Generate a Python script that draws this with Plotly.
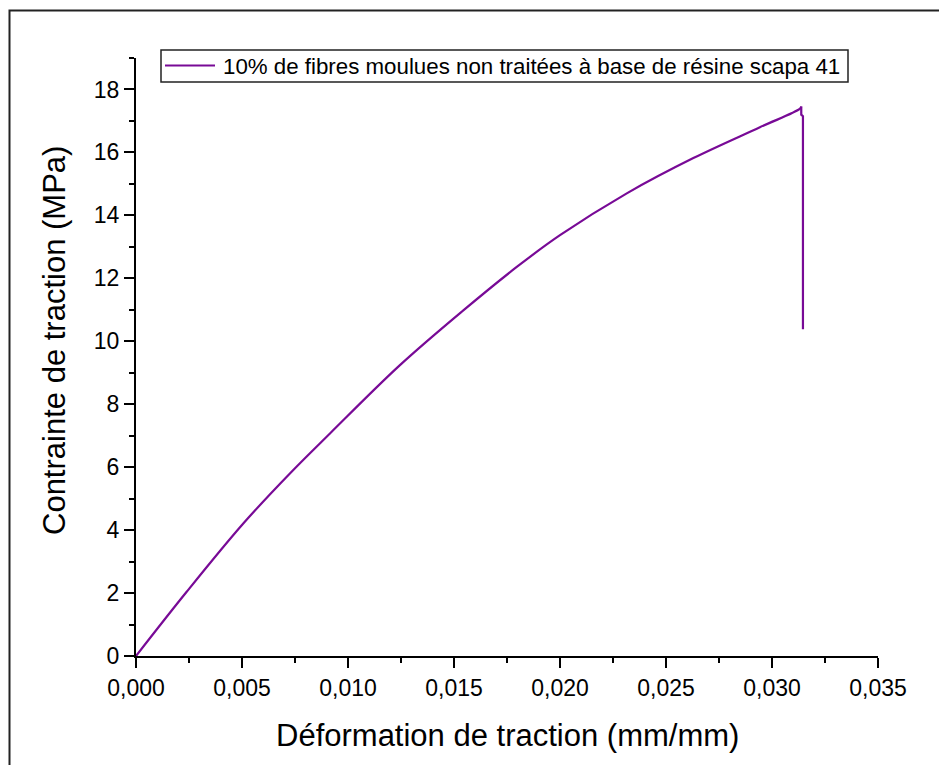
import plotly.graph_objects as go

# Tensile test: strain (mm/mm) vs stress (MPa); the last points are the failure drop
strain = [0.0, 0.00239, 0.00506, 0.00726, 0.00915, 0.01245, 0.01544, 0.01796,
          0.0200, 0.02315, 0.02629, 0.02943, 0.03132, 0.03138,
          0.03138, 0.03146, 0.03146]
stress = [0.0, 2.04, 4.21, 5.80, 7.07, 9.24, 10.98, 12.36,
          13.37, 14.70, 15.82, 16.80, 17.39, 17.46,
          17.20, 17.15, 10.38]
peak_index = 13

series_name = "10% de fibres moulues non traitées à base de résine scapa 41"
x_ticks = [0.0, 0.005, 0.010, 0.015, 0.020, 0.025, 0.030, 0.035]
x_tick_text = ["0,000", "0,005", "0,010", "0,015", "0,020", "0,025", "0,030", "0,035"]
y_ticks = [0, 2, 4, 6, 8, 10, 12, 14, 16, 18]

FONT = "Liberation Sans, Arial, sans-serif"
LINE_COLOR = "#780a96"
LINE_W = 2.2

fig = go.Figure()
# loading branch, drawn smooth
fig.add_trace(go.Scatter(
    x=strain[:peak_index + 1], y=stress[:peak_index + 1], mode="lines",
    name=series_name, line=dict(color=LINE_COLOR, width=LINE_W, shape="spline", smoothing=1.0),
    showlegend=False,
))
# failure drop after the peak
fig.add_trace(go.Scatter(
    x=strain[peak_index:], y=stress[peak_index:], mode="lines",
    name=series_name, line=dict(color=LINE_COLOR, width=LINE_W),
    showlegend=False,
))

axis_common = dict(
    showgrid=False, zeroline=False, showline=True, linecolor="black", linewidth=2,
    ticks="outside", ticklen=10, tickwidth=2, tickcolor="black",
    tickfont=dict(family=FONT, size=23, color="black"),
    mirror=False,
)

fig.update_xaxes(
    range=[0, 0.035], tickvals=x_ticks, ticktext=x_tick_text,
    minor=dict(ticks="outside", ticklen=5, tickwidth=2, tickcolor="black", dtick=0.0025, tick0=0),
    **axis_common,
)
fig.update_yaxes(
    range=[0, 19], tickvals=y_ticks,
    minor=dict(ticks="outside", ticklen=5, tickwidth=2, tickcolor="black", dtick=1, tick0=0),
    **axis_common,
)

W, H = 939, 765
L, R, T, B = 136, 61, 58, 109
pw, ph = W - L - R, H - T - B

def px_x(p):
    return (p - L) / pw

def px_y(p):
    return (H - B - p) / ph

# Outer frame around the whole graph page
fig.add_shape(type="rect", xref="paper", yref="paper",
              x0=px_x(9.5), x1=px_x(960), y0=px_y(790), y1=px_y(10.5),
              line=dict(color="#222222", width=2), fillcolor="rgba(0,0,0,0)", layer="above")

# Legend box with line sample and label
fig.add_shape(type="rect", xref="paper", yref="paper",
              x0=px_x(161), x1=px_x(848), y0=px_y(82), y1=px_y(50),
              line=dict(color="#222222", width=1.5), fillcolor="white", layer="above")
fig.add_shape(type="line", xref="paper", yref="paper",
              x0=px_x(165), x1=px_x(215), y0=px_y(65.5), y1=px_y(65.5),
              line=dict(color=LINE_COLOR, width=LINE_W), layer="above")
fig.add_annotation(text=series_name, xref="paper", yref="paper",
                   x=px_x(221), y=px_y(66), xanchor="left", yanchor="middle",
                   showarrow=False, font=dict(family=FONT, size=22.3, color="black"))

# Axis titles
fig.add_annotation(text="Déformation de traction (mm/mm)", xref="paper", yref="paper",
                   x=px_x(507.5), y=px_y(735), xanchor="center", yanchor="middle",
                   showarrow=False, font=dict(family=FONT, size=31, color="black"))
fig.add_annotation(text="Contrainte de traction (MPa)", xref="paper", yref="paper",
                   x=px_x(54), y=px_y(341), xanchor="center", yanchor="middle", textangle=-90,
                   showarrow=False, font=dict(family=FONT, size=31, color="black"))

fig.update_layout(
    width=W, height=H,
    margin=dict(l=L, r=R, t=T, b=B, autoexpand=False),
    paper_bgcolor="white", plot_bgcolor="white",
    font=dict(family=FONT, color="black"),
    showlegend=False,
)

fig.write_html("out.html")
